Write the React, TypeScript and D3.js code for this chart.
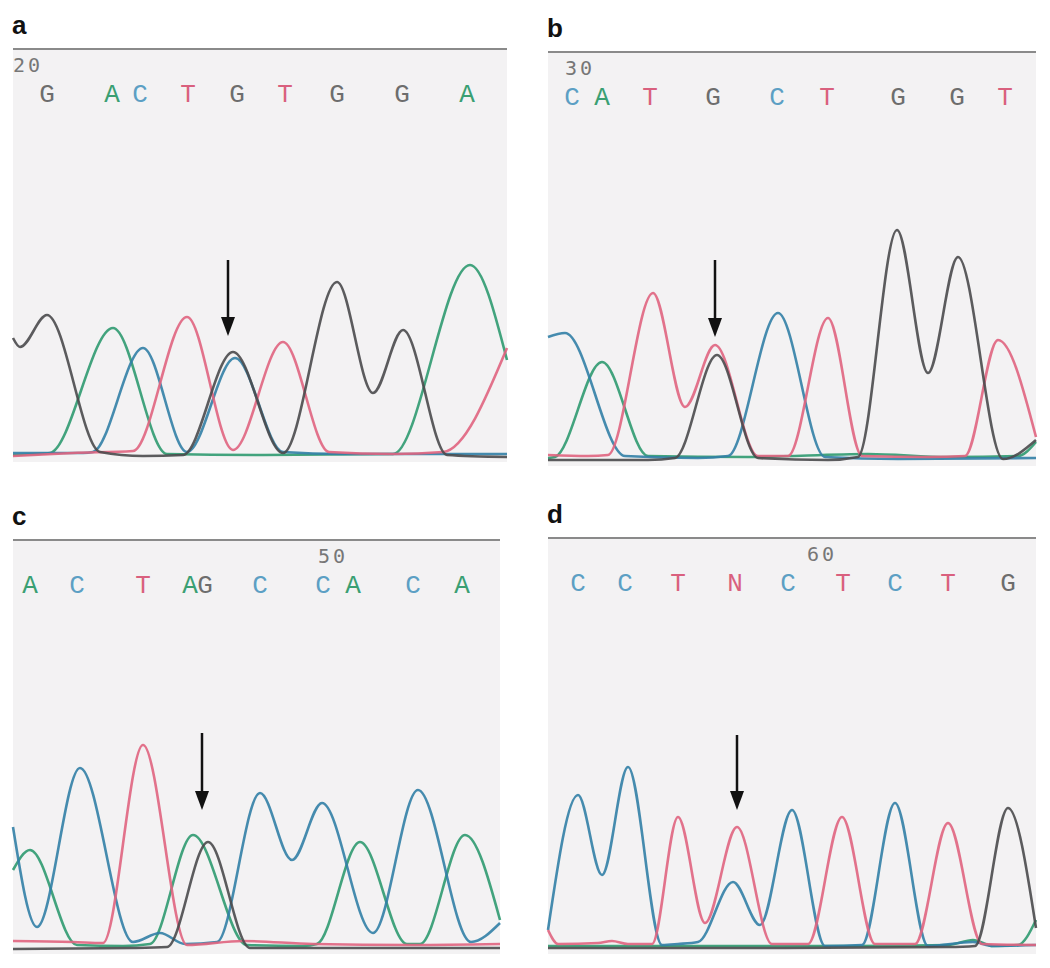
import * as React from "react";
import * as d3 from "d3";

type Pt = [number, number];

// trace colours per base
const baseColor: Record<string, string> = {
  G: "#4a4a4d",
  A: "#2f9a70",
  C: "#327fa6",
  T: "#e0647f",
};
const callColor: Record<string, string> = {
  G: "#6d6d6d",
  A: "#3a9f72",
  C: "#5c9fc4",
  T: "#d9607e",
  N: "#d9607e",
};

//* panel a — x is px from panel left, y is signal height above baseline
const aG: Pt[] = [[0, 120], [7, 111], [34, 143], [87, 6], [130, 2], [170, 3], [220, 106], [270, 5], [324, 176], [360, 65], [390, 128], [434, 3], [494, 1]];
const aA: Pt[] = [[0, 3], [25, 4], [37, 5], [100, 130], [154, 4], [250, 3], [380, 4], [457, 193], [494, 98]];
const aC: Pt[] = [[0, 5], [70, 5], [80, 6], [130, 110], [174, 6], [222, 100], [270, 6], [330, 4], [494, 4]];
const aT: Pt[] = [[0, 2], [60, 5], [120, 7], [174, 141], [220, 8], [270, 116], [316, 6], [380, 4], [430, 6], [494, 110]];
const aCalls = ["G", "A", "C", "T", "G", "T", "G", "G", "A"];
const aCallX = [34, 99, 127, 175, 224, 272, 324, 389, 454];

//* panel b
const bG: Pt[] = [[0, 2], [100, 2], [127, 4], [169, 107], [210, 4], [280, 2], [310, 5], [349, 232], [380, 89], [410, 205], [455, 3], [488, 22]];
const bA: Pt[] = [[0, 4], [7, 5], [54, 100], [100, 6], [200, 5], [320, 8], [400, 5], [470, 6], [488, 20]];
const bC: Pt[] = [[0, 125], [17, 129], [77, 6], [150, 4], [180, 6], [230, 149], [277, 5], [350, 3], [488, 4]];
const bT: Pt[] = [[0, 7], [40, 6], [60, 7], [105, 169], [137, 55], [167, 117], [210, 6], [240, 6], [280, 144], [314, 6], [380, 5], [417, 6], [450, 122], [488, 25]];
const bCalls = ["C", "A", "T", "G", "C", "T", "G", "G", "T"];
const bCallX = [24, 54, 102, 165, 229, 279, 350, 409, 457];

//* panel c
const cG: Pt[] = [[0, 1], [120, 2], [154, 3], [195, 108], [237, 2], [487, 2]];
const cA: Pt[] = [[0, 80], [17, 100], [64, 5], [110, 4], [137, 6], [180, 115], [234, 5], [290, 4], [304, 6], [347, 108], [394, 6], [407, 6], [452, 115], [487, 30]];
const cC: Pt[] = [[0, 123], [24, 23], [67, 182], [120, 8], [147, 17], [172, 6], [204, 8], [247, 157], [279, 90], [309, 147], [360, 17], [405, 160], [458, 8], [487, 27]];
const cT: Pt[] = [[0, 9], [60, 8], [90, 7], [130, 205], [174, 5], [230, 9], [300, 6], [400, 5], [487, 6]];
const cCalls = ["A", "C", "T", "A", "G", "C", "C", "A", "C", "A"];
const cCallX = [17, 64, 130, 177, 192, 247, 310, 340, 400, 449];

//* panel d
const dG: Pt[] = [[0, 2], [200, 2], [400, 3], [427, 4], [460, 142], [488, 22]];
const dA: Pt[] = [[0, 4], [300, 4], [400, 5], [425, 10], [445, 4], [470, 5], [488, 30]];
const dC: Pt[] = [[0, 20], [30, 155], [54, 75], [80, 183], [114, 5], [130, 6], [150, 8], [185, 68], [212, 25], [244, 140], [277, 4], [314, 5], [347, 147], [380, 4], [425, 8], [445, 4], [488, 5]];
const dT: Pt[] = [[0, 20], [10, 6], [50, 7], [64, 9], [80, 6], [104, 6], [130, 133], [157, 27], [189, 123], [224, 6], [260, 6], [294, 133], [327, 6], [367, 6], [400, 127], [434, 6], [488, 5]];
const dCalls = ["C", "C", "T", "N", "C", "T", "C", "T", "G"];
const dCallX = [30, 77, 130, 187, 240, 295, 347, 400, 460];

// position number, arrow [x, tip height, top height]
const panelLabels = ["a", "b", "c", "d"];
const posNumbers = ["20", "30", "50", "60"];
const posNumberX = [0, 17, 305, 259];
const arrows: [number, number, number][] = [[215, 122, 198], [167, 125, 202], [189, 140, 217], [189, 140, 215]];

const panelBox = [
  { left: 13, width: 494, lineY: 49, baseline: 458 },
  { left: 548, width: 488, lineY: 52, baseline: 462 },
  { left: 13, width: 487, lineY: 540, baseline: 950 },
  { left: 548, width: 488, lineY: 538, baseline: 950 },
];

const traces = [
  { G: aG, A: aA, C: aC, T: aT },
  { G: bG, A: bA, C: bC, T: bT },
  { G: cG, A: cA, C: cC, T: cT },
  { G: dG, A: dA, C: dC, T: dT },
];
const calls = [
  [aCalls, aCallX],
  [bCalls, bCallX],
  [cCalls, cCallX],
  [dCalls, dCallX],
] as [string[], number[]][];

function Panel({ i }: { i: number }) {
  const box = panelBox[i];
  const x = d3.scaleLinear().domain([0, box.width]).range([box.left, box.left + box.width]);
  const y = d3.scaleLinear().domain([0, 250]).range([box.baseline, box.baseline - 250]);
  const line = d3
    .line<Pt>()
    .x((d) => x(d[0]))
    .y((d) => y(d[1]))
    .curve(d3.curveMonotoneX);
  const [letters, lx] = calls[i];
  const [ax, tip, top] = arrows[i];
  const order = ["A", "C", "T", "G"] as const;

  return (
    <g>
      <text x={box.left - 1} y={box.lineY - 15} fontSize={26} fontWeight="bold" fontFamily="Liberation Sans, Arial, sans-serif" fill="#111">
        {panelLabels[i]}
      </text>
      <rect x={box.left} y={box.lineY + 1} width={box.width} height={box.baseline - box.lineY + 3} fill="#f3f2f3" />
      <line x1={box.left} x2={box.left + box.width} y1={box.lineY} y2={box.lineY} stroke="#8a8a8a" strokeWidth={2} />
      <text x={x(posNumberX[i])} y={box.lineY + 23} fontSize={20} fontFamily="DejaVu Sans Mono, monospace" letterSpacing={3} fill="#777">
        {posNumbers[i]}
      </text>
      <g fontFamily="Liberation Mono, Courier New, monospace" fontSize={26} textAnchor="middle">
        {letters.map((l, k) => (
          <text key={k} x={x(lx[k])} y={box.lineY + 53} fill={callColor[l]}>
            {l}
          </text>
        ))}
      </g>
      {order.map((b) => (
        <path key={b} d={line(traces[i][b]) ?? ""} fill="none" stroke={baseColor[b]} strokeWidth={2.6} strokeOpacity={0.9} />
      ))}
      <line x1={x(ax)} x2={x(ax)} y1={y(top)} y2={y(tip) - 14} stroke="#111" strokeWidth={2.5} />
      <path
        d={`M${x(ax) - 7},${y(tip) - 19}L${x(ax) + 7},${y(tip) - 19}L${x(ax)},${y(tip)}Z`}
        fill="#111"
      />
    </g>
  );
}

export default function App() {
  return (
    <svg width={1050} height={968} style={{ position: "absolute", left: 0, top: 0, background: "#fff" }}>
      {panelBox.map((_, i) => (
        <Panel key={i} i={i} />
      ))}
    </svg>
  );
}
